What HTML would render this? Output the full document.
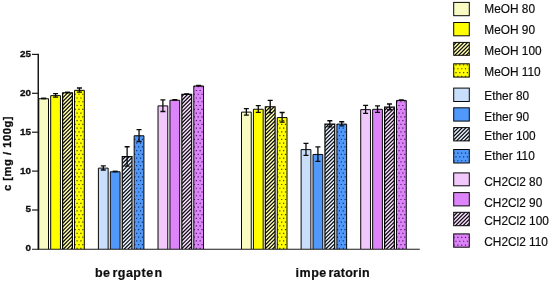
<!DOCTYPE html>
<html><head><meta charset="utf-8"><title>chart</title>
<style>
html,body{margin:0;padding:0;background:#fff;}
body{width:550px;height:283px;overflow:hidden;font-family:"Liberation Sans",sans-serif;}
svg{display:block;}
text{font-family:"Liberation Sans",sans-serif;fill:#0d0d0d;}
.tk{font-size:9.9px;font-weight:bold;stroke:#0d0d0d;stroke-width:0.3px;}
.lg{font-size:11.85px;stroke:#0d0d0d;stroke-width:0.18px;}
.xl{font-size:12.5px;font-weight:bold;letter-spacing:0.5px;stroke:#0d0d0d;stroke-width:0.2px;}
.yl{font-size:11.3px;font-weight:bold;letter-spacing:0.47px;stroke:#0d0d0d;stroke-width:0.3px;}
</style></head>
<body>
<svg width="550" height="283" viewBox="0 0 550 283">
<defs><clipPath id="c1"><rect x="62.63" y="92.75" width="9.75" height="156.35"/></clipPath><clipPath id="c2"><rect x="74.55" y="90.34" width="9.75" height="158.76"/></clipPath><clipPath id="c3"><rect x="122.25" y="156.70" width="9.75" height="92.40"/></clipPath><clipPath id="c4"><rect x="134.17" y="135.77" width="9.75" height="113.33"/></clipPath><clipPath id="c5"><rect x="181.87" y="94.38" width="9.75" height="154.72"/></clipPath><clipPath id="c6"><rect x="193.79" y="85.98" width="9.75" height="163.12"/></clipPath><clipPath id="c7"><rect x="265.34" y="106.75" width="9.75" height="142.35"/></clipPath><clipPath id="c8"><rect x="277.26" y="117.57" width="9.75" height="131.53"/></clipPath><clipPath id="c9"><rect x="324.96" y="124.10" width="9.75" height="125.00"/></clipPath><clipPath id="c10"><rect x="336.88" y="124.10" width="9.75" height="125.00"/></clipPath><clipPath id="c11"><rect x="384.58" y="107.14" width="9.75" height="141.96"/></clipPath><clipPath id="c12"><rect x="396.50" y="100.45" width="9.75" height="148.65"/></clipPath><clipPath id="c13"><rect x="453.70" y="42.40" width="15.60" height="12.90"/></clipPath><clipPath id="c14"><rect x="453.70" y="63.80" width="15.60" height="13.30"/></clipPath><clipPath id="c15"><rect x="453.70" y="127.60" width="15.60" height="13.30"/></clipPath><clipPath id="c16"><rect x="453.70" y="149.50" width="15.60" height="13.50"/></clipPath><clipPath id="c17"><rect x="453.70" y="212.30" width="15.60" height="13.40"/></clipPath><clipPath id="c18"><rect x="453.70" y="233.90" width="15.60" height="13.30"/></clipPath></defs>
<rect width="550" height="283" fill="#fff"/>
<rect x="38.78" y="98.74" width="9.75" height="150.36" fill="#F9FCC2"/>
<path d="M38.78 249.10V98.74H48.53V249.10" fill="none" stroke="#080808" stroke-width="1.0"/>
<path d="M41.16 98.44H46.16" stroke="#0a0a0a" stroke-width="1.8" fill="none"/>
<rect x="50.70" y="95.63" width="9.75" height="153.47" fill="#FFFF00"/>
<path d="M50.70 249.10V95.63H60.45V249.10" fill="none" stroke="#080808" stroke-width="1.0"/>
<path d="M55.58 93.59V97.17M53.08 93.59H58.08M53.08 97.17H58.08" stroke="#0a0a0a" stroke-width="1.3" fill="none"/>
<rect x="62.63" y="92.75" width="9.75" height="156.35" fill="#FFFFAC"/><path clip-path="url(#c1)" d="M61.63 91.27L73.38 79.52M61.63 95.07L73.38 83.32M61.63 98.87L73.38 87.12M61.63 102.67L73.38 90.92M61.63 106.47L73.38 94.72M61.63 110.27L73.38 98.52M61.63 114.07L73.38 102.32M61.63 117.87L73.38 106.12M61.63 121.67L73.38 109.92M61.63 125.47L73.38 113.72M61.63 129.27L73.38 117.52M61.63 133.07L73.38 121.32M61.63 136.87L73.38 125.12M61.63 140.67L73.38 128.92M61.63 144.47L73.38 132.72M61.63 148.27L73.38 136.52M61.63 152.07L73.38 140.32M61.63 155.87L73.38 144.12M61.63 159.67L73.38 147.92M61.63 163.47L73.38 151.72M61.63 167.27L73.38 155.52M61.63 171.07L73.38 159.32M61.63 174.87L73.38 163.12M61.63 178.67L73.38 166.92M61.63 182.47L73.38 170.72M61.63 186.27L73.38 174.52M61.63 190.07L73.38 178.32M61.63 193.87L73.38 182.12M61.63 197.67L73.38 185.92M61.63 201.47L73.38 189.72M61.63 205.27L73.38 193.52M61.63 209.07L73.38 197.32M61.63 212.87L73.38 201.12M61.63 216.67L73.38 204.92M61.63 220.47L73.38 208.72M61.63 224.27L73.38 212.52M61.63 228.07L73.38 216.32M61.63 231.87L73.38 220.12M61.63 235.67L73.38 223.92M61.63 239.47L73.38 227.72M61.63 243.27L73.38 231.52M61.63 247.07L73.38 235.32M61.63 250.87L73.38 239.12M61.63 254.67L73.38 242.92M61.63 258.47L73.38 246.72M61.63 262.27L73.38 250.52" stroke="#0a0a0a" stroke-width="1.22" fill="none"/>
<path d="M62.63 249.10V92.75H72.38V249.10" fill="none" stroke="#050505" stroke-width="1.2"/>
<path d="M65.00 92.45H70.00" stroke="#0a0a0a" stroke-width="1.8" fill="none"/>
<rect x="74.55" y="90.34" width="9.75" height="158.76" fill="#FFFF00"/><path clip-path="url(#c2)" d="M76.50 89.88h1.2v1.2h-1.2zM80.30 89.88h1.2v1.2h-1.2zM84.10 89.88h1.2v1.2h-1.2zM74.60 93.64h1.2v1.2h-1.2zM78.40 93.64h1.2v1.2h-1.2zM82.20 93.64h1.2v1.2h-1.2zM76.50 97.40h1.2v1.2h-1.2zM80.30 97.40h1.2v1.2h-1.2zM84.10 97.40h1.2v1.2h-1.2zM74.60 101.16h1.2v1.2h-1.2zM78.40 101.16h1.2v1.2h-1.2zM82.20 101.16h1.2v1.2h-1.2zM76.50 104.92h1.2v1.2h-1.2zM80.30 104.92h1.2v1.2h-1.2zM84.10 104.92h1.2v1.2h-1.2zM74.60 108.68h1.2v1.2h-1.2zM78.40 108.68h1.2v1.2h-1.2zM82.20 108.68h1.2v1.2h-1.2zM76.50 112.44h1.2v1.2h-1.2zM80.30 112.44h1.2v1.2h-1.2zM84.10 112.44h1.2v1.2h-1.2zM74.60 116.20h1.2v1.2h-1.2zM78.40 116.20h1.2v1.2h-1.2zM82.20 116.20h1.2v1.2h-1.2zM76.50 119.96h1.2v1.2h-1.2zM80.30 119.96h1.2v1.2h-1.2zM84.10 119.96h1.2v1.2h-1.2zM74.60 123.72h1.2v1.2h-1.2zM78.40 123.72h1.2v1.2h-1.2zM82.20 123.72h1.2v1.2h-1.2zM76.50 127.48h1.2v1.2h-1.2zM80.30 127.48h1.2v1.2h-1.2zM84.10 127.48h1.2v1.2h-1.2zM74.60 131.24h1.2v1.2h-1.2zM78.40 131.24h1.2v1.2h-1.2zM82.20 131.24h1.2v1.2h-1.2zM76.50 135.00h1.2v1.2h-1.2zM80.30 135.00h1.2v1.2h-1.2zM84.10 135.00h1.2v1.2h-1.2zM74.60 138.76h1.2v1.2h-1.2zM78.40 138.76h1.2v1.2h-1.2zM82.20 138.76h1.2v1.2h-1.2zM76.50 142.52h1.2v1.2h-1.2zM80.30 142.52h1.2v1.2h-1.2zM84.10 142.52h1.2v1.2h-1.2zM74.60 146.28h1.2v1.2h-1.2zM78.40 146.28h1.2v1.2h-1.2zM82.20 146.28h1.2v1.2h-1.2zM76.50 150.04h1.2v1.2h-1.2zM80.30 150.04h1.2v1.2h-1.2zM84.10 150.04h1.2v1.2h-1.2zM74.60 153.80h1.2v1.2h-1.2zM78.40 153.80h1.2v1.2h-1.2zM82.20 153.80h1.2v1.2h-1.2zM76.50 157.56h1.2v1.2h-1.2zM80.30 157.56h1.2v1.2h-1.2zM84.10 157.56h1.2v1.2h-1.2zM74.60 161.32h1.2v1.2h-1.2zM78.40 161.32h1.2v1.2h-1.2zM82.20 161.32h1.2v1.2h-1.2zM76.50 165.08h1.2v1.2h-1.2zM80.30 165.08h1.2v1.2h-1.2zM84.10 165.08h1.2v1.2h-1.2zM74.60 168.84h1.2v1.2h-1.2zM78.40 168.84h1.2v1.2h-1.2zM82.20 168.84h1.2v1.2h-1.2zM76.50 172.60h1.2v1.2h-1.2zM80.30 172.60h1.2v1.2h-1.2zM84.10 172.60h1.2v1.2h-1.2zM74.60 176.36h1.2v1.2h-1.2zM78.40 176.36h1.2v1.2h-1.2zM82.20 176.36h1.2v1.2h-1.2zM76.50 180.12h1.2v1.2h-1.2zM80.30 180.12h1.2v1.2h-1.2zM84.10 180.12h1.2v1.2h-1.2zM74.60 183.88h1.2v1.2h-1.2zM78.40 183.88h1.2v1.2h-1.2zM82.20 183.88h1.2v1.2h-1.2zM76.50 187.64h1.2v1.2h-1.2zM80.30 187.64h1.2v1.2h-1.2zM84.10 187.64h1.2v1.2h-1.2zM74.60 191.40h1.2v1.2h-1.2zM78.40 191.40h1.2v1.2h-1.2zM82.20 191.40h1.2v1.2h-1.2zM76.50 195.16h1.2v1.2h-1.2zM80.30 195.16h1.2v1.2h-1.2zM84.10 195.16h1.2v1.2h-1.2zM74.60 198.92h1.2v1.2h-1.2zM78.40 198.92h1.2v1.2h-1.2zM82.20 198.92h1.2v1.2h-1.2zM76.50 202.68h1.2v1.2h-1.2zM80.30 202.68h1.2v1.2h-1.2zM84.10 202.68h1.2v1.2h-1.2zM74.60 206.44h1.2v1.2h-1.2zM78.40 206.44h1.2v1.2h-1.2zM82.20 206.44h1.2v1.2h-1.2zM76.50 210.20h1.2v1.2h-1.2zM80.30 210.20h1.2v1.2h-1.2zM84.10 210.20h1.2v1.2h-1.2zM74.60 213.96h1.2v1.2h-1.2zM78.40 213.96h1.2v1.2h-1.2zM82.20 213.96h1.2v1.2h-1.2zM76.50 217.72h1.2v1.2h-1.2zM80.30 217.72h1.2v1.2h-1.2zM84.10 217.72h1.2v1.2h-1.2zM74.60 221.48h1.2v1.2h-1.2zM78.40 221.48h1.2v1.2h-1.2zM82.20 221.48h1.2v1.2h-1.2zM76.50 225.24h1.2v1.2h-1.2zM80.30 225.24h1.2v1.2h-1.2zM84.10 225.24h1.2v1.2h-1.2zM74.60 229.00h1.2v1.2h-1.2zM78.40 229.00h1.2v1.2h-1.2zM82.20 229.00h1.2v1.2h-1.2zM76.50 232.76h1.2v1.2h-1.2zM80.30 232.76h1.2v1.2h-1.2zM84.10 232.76h1.2v1.2h-1.2zM74.60 236.52h1.2v1.2h-1.2zM78.40 236.52h1.2v1.2h-1.2zM82.20 236.52h1.2v1.2h-1.2zM76.50 240.28h1.2v1.2h-1.2zM80.30 240.28h1.2v1.2h-1.2zM84.10 240.28h1.2v1.2h-1.2zM74.60 244.04h1.2v1.2h-1.2zM78.40 244.04h1.2v1.2h-1.2zM82.20 244.04h1.2v1.2h-1.2zM76.50 247.80h1.2v1.2h-1.2zM80.30 247.80h1.2v1.2h-1.2zM84.10 247.80h1.2v1.2h-1.2z" fill="#454100"/>
<path d="M74.55 249.10V90.34H84.30V249.10" fill="none" stroke="#080808" stroke-width="1.0"/>
<path d="M79.43 87.99V92.19M76.93 87.99H81.93M76.93 92.19H81.93" stroke="#0a0a0a" stroke-width="1.3" fill="none"/>
<rect x="98.40" y="168.14" width="9.75" height="80.96" fill="#C8DEFA"/>
<path d="M98.40 249.10V168.14H108.15V249.10" fill="none" stroke="#080808" stroke-width="1.0"/>
<path d="M103.28 165.79V169.99M100.78 165.79H105.78M100.78 169.99H105.78" stroke="#0a0a0a" stroke-width="1.3" fill="none"/>
<rect x="110.32" y="171.79" width="9.75" height="77.31" fill="#5098FA"/>
<path d="M110.32 249.10V171.79H120.07V249.10" fill="none" stroke="#080808" stroke-width="1.0"/>
<path d="M112.70 171.49H117.70" stroke="#0a0a0a" stroke-width="1.8" fill="none"/>
<rect x="122.25" y="156.70" width="9.75" height="92.40" fill="#E4F0FF"/><path clip-path="url(#c3)" d="M121.25 157.05L133.00 145.30M121.25 160.85L133.00 149.10M121.25 164.65L133.00 152.90M121.25 168.45L133.00 156.70M121.25 172.25L133.00 160.50M121.25 176.05L133.00 164.30M121.25 179.85L133.00 168.10M121.25 183.65L133.00 171.90M121.25 187.45L133.00 175.70M121.25 191.25L133.00 179.50M121.25 195.05L133.00 183.30M121.25 198.85L133.00 187.10M121.25 202.65L133.00 190.90M121.25 206.45L133.00 194.70M121.25 210.25L133.00 198.50M121.25 214.05L133.00 202.30M121.25 217.85L133.00 206.10M121.25 221.65L133.00 209.90M121.25 225.45L133.00 213.70M121.25 229.25L133.00 217.50M121.25 233.05L133.00 221.30M121.25 236.85L133.00 225.10M121.25 240.65L133.00 228.90M121.25 244.45L133.00 232.70M121.25 248.25L133.00 236.50M121.25 252.05L133.00 240.30M121.25 255.85L133.00 244.10M121.25 259.65L133.00 247.90M121.25 263.45L133.00 251.70" stroke="#0a0a0a" stroke-width="1.22" fill="none"/>
<path d="M122.25 249.10V156.70H132.00V249.10" fill="none" stroke="#050505" stroke-width="1.2"/>
<path d="M127.12 146.73V166.18M124.62 146.73H129.62M124.62 166.18H129.62" stroke="#0a0a0a" stroke-width="1.3" fill="none"/>
<rect x="134.17" y="135.77" width="9.75" height="113.33" fill="#5098FA"/><path clip-path="url(#c4)" d="M136.12 135.00h1.2v1.2h-1.2zM139.92 135.00h1.2v1.2h-1.2zM143.72 135.00h1.2v1.2h-1.2zM134.22 138.76h1.2v1.2h-1.2zM138.02 138.76h1.2v1.2h-1.2zM141.82 138.76h1.2v1.2h-1.2zM136.12 142.52h1.2v1.2h-1.2zM139.92 142.52h1.2v1.2h-1.2zM143.72 142.52h1.2v1.2h-1.2zM134.22 146.28h1.2v1.2h-1.2zM138.02 146.28h1.2v1.2h-1.2zM141.82 146.28h1.2v1.2h-1.2zM136.12 150.04h1.2v1.2h-1.2zM139.92 150.04h1.2v1.2h-1.2zM143.72 150.04h1.2v1.2h-1.2zM134.22 153.80h1.2v1.2h-1.2zM138.02 153.80h1.2v1.2h-1.2zM141.82 153.80h1.2v1.2h-1.2zM136.12 157.56h1.2v1.2h-1.2zM139.92 157.56h1.2v1.2h-1.2zM143.72 157.56h1.2v1.2h-1.2zM134.22 161.32h1.2v1.2h-1.2zM138.02 161.32h1.2v1.2h-1.2zM141.82 161.32h1.2v1.2h-1.2zM136.12 165.08h1.2v1.2h-1.2zM139.92 165.08h1.2v1.2h-1.2zM143.72 165.08h1.2v1.2h-1.2zM134.22 168.84h1.2v1.2h-1.2zM138.02 168.84h1.2v1.2h-1.2zM141.82 168.84h1.2v1.2h-1.2zM136.12 172.60h1.2v1.2h-1.2zM139.92 172.60h1.2v1.2h-1.2zM143.72 172.60h1.2v1.2h-1.2zM134.22 176.36h1.2v1.2h-1.2zM138.02 176.36h1.2v1.2h-1.2zM141.82 176.36h1.2v1.2h-1.2zM136.12 180.12h1.2v1.2h-1.2zM139.92 180.12h1.2v1.2h-1.2zM143.72 180.12h1.2v1.2h-1.2zM134.22 183.88h1.2v1.2h-1.2zM138.02 183.88h1.2v1.2h-1.2zM141.82 183.88h1.2v1.2h-1.2zM136.12 187.64h1.2v1.2h-1.2zM139.92 187.64h1.2v1.2h-1.2zM143.72 187.64h1.2v1.2h-1.2zM134.22 191.40h1.2v1.2h-1.2zM138.02 191.40h1.2v1.2h-1.2zM141.82 191.40h1.2v1.2h-1.2zM136.12 195.16h1.2v1.2h-1.2zM139.92 195.16h1.2v1.2h-1.2zM143.72 195.16h1.2v1.2h-1.2zM134.22 198.92h1.2v1.2h-1.2zM138.02 198.92h1.2v1.2h-1.2zM141.82 198.92h1.2v1.2h-1.2zM136.12 202.68h1.2v1.2h-1.2zM139.92 202.68h1.2v1.2h-1.2zM143.72 202.68h1.2v1.2h-1.2zM134.22 206.44h1.2v1.2h-1.2zM138.02 206.44h1.2v1.2h-1.2zM141.82 206.44h1.2v1.2h-1.2zM136.12 210.20h1.2v1.2h-1.2zM139.92 210.20h1.2v1.2h-1.2zM143.72 210.20h1.2v1.2h-1.2zM134.22 213.96h1.2v1.2h-1.2zM138.02 213.96h1.2v1.2h-1.2zM141.82 213.96h1.2v1.2h-1.2zM136.12 217.72h1.2v1.2h-1.2zM139.92 217.72h1.2v1.2h-1.2zM143.72 217.72h1.2v1.2h-1.2zM134.22 221.48h1.2v1.2h-1.2zM138.02 221.48h1.2v1.2h-1.2zM141.82 221.48h1.2v1.2h-1.2zM136.12 225.24h1.2v1.2h-1.2zM139.92 225.24h1.2v1.2h-1.2zM143.72 225.24h1.2v1.2h-1.2zM134.22 229.00h1.2v1.2h-1.2zM138.02 229.00h1.2v1.2h-1.2zM141.82 229.00h1.2v1.2h-1.2zM136.12 232.76h1.2v1.2h-1.2zM139.92 232.76h1.2v1.2h-1.2zM143.72 232.76h1.2v1.2h-1.2zM134.22 236.52h1.2v1.2h-1.2zM138.02 236.52h1.2v1.2h-1.2zM141.82 236.52h1.2v1.2h-1.2zM136.12 240.28h1.2v1.2h-1.2zM139.92 240.28h1.2v1.2h-1.2zM143.72 240.28h1.2v1.2h-1.2zM134.22 244.04h1.2v1.2h-1.2zM138.02 244.04h1.2v1.2h-1.2zM141.82 244.04h1.2v1.2h-1.2zM136.12 247.80h1.2v1.2h-1.2zM139.92 247.80h1.2v1.2h-1.2zM143.72 247.80h1.2v1.2h-1.2z" fill="#15306a"/>
<path d="M134.17 249.10V135.77H143.92V249.10" fill="none" stroke="#080808" stroke-width="1.0"/>
<path d="M139.05 129.53V141.51M136.55 129.53H141.55M136.55 141.51H141.55" stroke="#0a0a0a" stroke-width="1.3" fill="none"/>
<rect x="158.02" y="105.90" width="9.75" height="143.20" fill="#F0C8FA"/>
<path d="M158.02 249.10V105.90H167.77V249.10" fill="none" stroke="#080808" stroke-width="1.0"/>
<path d="M162.89 99.81V111.48M160.39 99.81H165.39M160.39 111.48H165.39" stroke="#0a0a0a" stroke-width="1.3" fill="none"/>
<rect x="169.94" y="100.22" width="9.75" height="148.88" fill="#DE84FA"/>
<path d="M169.94 249.10V100.22H179.69V249.10" fill="none" stroke="#080808" stroke-width="1.0"/>
<path d="M172.32 99.92H177.32" stroke="#0a0a0a" stroke-width="1.8" fill="none"/>
<rect x="181.87" y="94.38" width="9.75" height="154.72" fill="#F8DCFF"/><path clip-path="url(#c5)" d="M180.87 93.63L192.62 81.88M180.87 97.43L192.62 85.68M180.87 101.23L192.62 89.48M180.87 105.03L192.62 93.28M180.87 108.83L192.62 97.08M180.87 112.63L192.62 100.88M180.87 116.43L192.62 104.68M180.87 120.23L192.62 108.48M180.87 124.03L192.62 112.28M180.87 127.83L192.62 116.08M180.87 131.63L192.62 119.88M180.87 135.43L192.62 123.68M180.87 139.23L192.62 127.48M180.87 143.03L192.62 131.28M180.87 146.83L192.62 135.08M180.87 150.63L192.62 138.88M180.87 154.43L192.62 142.68M180.87 158.23L192.62 146.48M180.87 162.03L192.62 150.28M180.87 165.83L192.62 154.08M180.87 169.63L192.62 157.88M180.87 173.43L192.62 161.68M180.87 177.23L192.62 165.48M180.87 181.03L192.62 169.28M180.87 184.83L192.62 173.08M180.87 188.63L192.62 176.88M180.87 192.43L192.62 180.68M180.87 196.23L192.62 184.48M180.87 200.03L192.62 188.28M180.87 203.83L192.62 192.08M180.87 207.63L192.62 195.88M180.87 211.43L192.62 199.68M180.87 215.23L192.62 203.48M180.87 219.03L192.62 207.28M180.87 222.83L192.62 211.08M180.87 226.63L192.62 214.88M180.87 230.43L192.62 218.68M180.87 234.23L192.62 222.48M180.87 238.03L192.62 226.28M180.87 241.83L192.62 230.08M180.87 245.63L192.62 233.88M180.87 249.43L192.62 237.68M180.87 253.23L192.62 241.48M180.87 257.03L192.62 245.28M180.87 260.83L192.62 249.08" stroke="#0a0a0a" stroke-width="1.22" fill="none"/>
<path d="M181.87 249.10V94.38H191.62V249.10" fill="none" stroke="#050505" stroke-width="1.2"/>
<path d="M184.24 94.08H189.24" stroke="#0a0a0a" stroke-width="1.8" fill="none"/>
<rect x="193.79" y="85.98" width="9.75" height="163.12" fill="#DE84FA"/><path clip-path="url(#c6)" d="M193.84 86.12h1.2v1.2h-1.2zM197.64 86.12h1.2v1.2h-1.2zM201.44 86.12h1.2v1.2h-1.2zM195.74 89.88h1.2v1.2h-1.2zM199.54 89.88h1.2v1.2h-1.2zM203.34 89.88h1.2v1.2h-1.2zM193.84 93.64h1.2v1.2h-1.2zM197.64 93.64h1.2v1.2h-1.2zM201.44 93.64h1.2v1.2h-1.2zM195.74 97.40h1.2v1.2h-1.2zM199.54 97.40h1.2v1.2h-1.2zM203.34 97.40h1.2v1.2h-1.2zM193.84 101.16h1.2v1.2h-1.2zM197.64 101.16h1.2v1.2h-1.2zM201.44 101.16h1.2v1.2h-1.2zM195.74 104.92h1.2v1.2h-1.2zM199.54 104.92h1.2v1.2h-1.2zM203.34 104.92h1.2v1.2h-1.2zM193.84 108.68h1.2v1.2h-1.2zM197.64 108.68h1.2v1.2h-1.2zM201.44 108.68h1.2v1.2h-1.2zM195.74 112.44h1.2v1.2h-1.2zM199.54 112.44h1.2v1.2h-1.2zM203.34 112.44h1.2v1.2h-1.2zM193.84 116.20h1.2v1.2h-1.2zM197.64 116.20h1.2v1.2h-1.2zM201.44 116.20h1.2v1.2h-1.2zM195.74 119.96h1.2v1.2h-1.2zM199.54 119.96h1.2v1.2h-1.2zM203.34 119.96h1.2v1.2h-1.2zM193.84 123.72h1.2v1.2h-1.2zM197.64 123.72h1.2v1.2h-1.2zM201.44 123.72h1.2v1.2h-1.2zM195.74 127.48h1.2v1.2h-1.2zM199.54 127.48h1.2v1.2h-1.2zM203.34 127.48h1.2v1.2h-1.2zM193.84 131.24h1.2v1.2h-1.2zM197.64 131.24h1.2v1.2h-1.2zM201.44 131.24h1.2v1.2h-1.2zM195.74 135.00h1.2v1.2h-1.2zM199.54 135.00h1.2v1.2h-1.2zM203.34 135.00h1.2v1.2h-1.2zM193.84 138.76h1.2v1.2h-1.2zM197.64 138.76h1.2v1.2h-1.2zM201.44 138.76h1.2v1.2h-1.2zM195.74 142.52h1.2v1.2h-1.2zM199.54 142.52h1.2v1.2h-1.2zM203.34 142.52h1.2v1.2h-1.2zM193.84 146.28h1.2v1.2h-1.2zM197.64 146.28h1.2v1.2h-1.2zM201.44 146.28h1.2v1.2h-1.2zM195.74 150.04h1.2v1.2h-1.2zM199.54 150.04h1.2v1.2h-1.2zM203.34 150.04h1.2v1.2h-1.2zM193.84 153.80h1.2v1.2h-1.2zM197.64 153.80h1.2v1.2h-1.2zM201.44 153.80h1.2v1.2h-1.2zM195.74 157.56h1.2v1.2h-1.2zM199.54 157.56h1.2v1.2h-1.2zM203.34 157.56h1.2v1.2h-1.2zM193.84 161.32h1.2v1.2h-1.2zM197.64 161.32h1.2v1.2h-1.2zM201.44 161.32h1.2v1.2h-1.2zM195.74 165.08h1.2v1.2h-1.2zM199.54 165.08h1.2v1.2h-1.2zM203.34 165.08h1.2v1.2h-1.2zM193.84 168.84h1.2v1.2h-1.2zM197.64 168.84h1.2v1.2h-1.2zM201.44 168.84h1.2v1.2h-1.2zM195.74 172.60h1.2v1.2h-1.2zM199.54 172.60h1.2v1.2h-1.2zM203.34 172.60h1.2v1.2h-1.2zM193.84 176.36h1.2v1.2h-1.2zM197.64 176.36h1.2v1.2h-1.2zM201.44 176.36h1.2v1.2h-1.2zM195.74 180.12h1.2v1.2h-1.2zM199.54 180.12h1.2v1.2h-1.2zM203.34 180.12h1.2v1.2h-1.2zM193.84 183.88h1.2v1.2h-1.2zM197.64 183.88h1.2v1.2h-1.2zM201.44 183.88h1.2v1.2h-1.2zM195.74 187.64h1.2v1.2h-1.2zM199.54 187.64h1.2v1.2h-1.2zM203.34 187.64h1.2v1.2h-1.2zM193.84 191.40h1.2v1.2h-1.2zM197.64 191.40h1.2v1.2h-1.2zM201.44 191.40h1.2v1.2h-1.2zM195.74 195.16h1.2v1.2h-1.2zM199.54 195.16h1.2v1.2h-1.2zM203.34 195.16h1.2v1.2h-1.2zM193.84 198.92h1.2v1.2h-1.2zM197.64 198.92h1.2v1.2h-1.2zM201.44 198.92h1.2v1.2h-1.2zM195.74 202.68h1.2v1.2h-1.2zM199.54 202.68h1.2v1.2h-1.2zM203.34 202.68h1.2v1.2h-1.2zM193.84 206.44h1.2v1.2h-1.2zM197.64 206.44h1.2v1.2h-1.2zM201.44 206.44h1.2v1.2h-1.2zM195.74 210.20h1.2v1.2h-1.2zM199.54 210.20h1.2v1.2h-1.2zM203.34 210.20h1.2v1.2h-1.2zM193.84 213.96h1.2v1.2h-1.2zM197.64 213.96h1.2v1.2h-1.2zM201.44 213.96h1.2v1.2h-1.2zM195.74 217.72h1.2v1.2h-1.2zM199.54 217.72h1.2v1.2h-1.2zM203.34 217.72h1.2v1.2h-1.2zM193.84 221.48h1.2v1.2h-1.2zM197.64 221.48h1.2v1.2h-1.2zM201.44 221.48h1.2v1.2h-1.2zM195.74 225.24h1.2v1.2h-1.2zM199.54 225.24h1.2v1.2h-1.2zM203.34 225.24h1.2v1.2h-1.2zM193.84 229.00h1.2v1.2h-1.2zM197.64 229.00h1.2v1.2h-1.2zM201.44 229.00h1.2v1.2h-1.2zM195.74 232.76h1.2v1.2h-1.2zM199.54 232.76h1.2v1.2h-1.2zM203.34 232.76h1.2v1.2h-1.2zM193.84 236.52h1.2v1.2h-1.2zM197.64 236.52h1.2v1.2h-1.2zM201.44 236.52h1.2v1.2h-1.2zM195.74 240.28h1.2v1.2h-1.2zM199.54 240.28h1.2v1.2h-1.2zM203.34 240.28h1.2v1.2h-1.2zM193.84 244.04h1.2v1.2h-1.2zM197.64 244.04h1.2v1.2h-1.2zM201.44 244.04h1.2v1.2h-1.2zM195.74 247.80h1.2v1.2h-1.2zM199.54 247.80h1.2v1.2h-1.2zM203.34 247.80h1.2v1.2h-1.2z" fill="#4a1c60"/>
<path d="M193.79 249.10V85.98H203.54V249.10" fill="none" stroke="#080808" stroke-width="1.0"/>
<path d="M196.17 85.68H201.17" stroke="#0a0a0a" stroke-width="1.8" fill="none"/>
<rect x="241.49" y="112.12" width="9.75" height="136.98" fill="#F9FCC2"/>
<path d="M241.49 249.10V112.12H251.24V249.10" fill="none" stroke="#080808" stroke-width="1.0"/>
<path d="M246.36 108.60V115.14M243.86 108.60H248.86M243.86 115.14H248.86" stroke="#0a0a0a" stroke-width="1.3" fill="none"/>
<rect x="253.41" y="109.24" width="9.75" height="139.86" fill="#FFFF00"/>
<path d="M253.41 249.10V109.24H263.16V249.10" fill="none" stroke="#080808" stroke-width="1.0"/>
<path d="M258.29 105.65V112.34M255.79 105.65H260.79M255.79 112.34H260.79" stroke="#0a0a0a" stroke-width="1.3" fill="none"/>
<rect x="265.34" y="106.75" width="9.75" height="142.35" fill="#FFFFAC"/><path clip-path="url(#c7)" d="M264.34 105.16L276.09 93.41M264.34 108.96L276.09 97.21M264.34 112.76L276.09 101.01M264.34 116.56L276.09 104.81M264.34 120.36L276.09 108.61M264.34 124.16L276.09 112.41M264.34 127.96L276.09 116.21M264.34 131.76L276.09 120.01M264.34 135.56L276.09 123.81M264.34 139.36L276.09 127.61M264.34 143.16L276.09 131.41M264.34 146.96L276.09 135.21M264.34 150.76L276.09 139.01M264.34 154.56L276.09 142.81M264.34 158.36L276.09 146.61M264.34 162.16L276.09 150.41M264.34 165.96L276.09 154.21M264.34 169.76L276.09 158.01M264.34 173.56L276.09 161.81M264.34 177.36L276.09 165.61M264.34 181.16L276.09 169.41M264.34 184.96L276.09 173.21M264.34 188.76L276.09 177.01M264.34 192.56L276.09 180.81M264.34 196.36L276.09 184.61M264.34 200.16L276.09 188.41M264.34 203.96L276.09 192.21M264.34 207.76L276.09 196.01M264.34 211.56L276.09 199.81M264.34 215.36L276.09 203.61M264.34 219.16L276.09 207.41M264.34 222.96L276.09 211.21M264.34 226.76L276.09 215.01M264.34 230.56L276.09 218.81M264.34 234.36L276.09 222.61M264.34 238.16L276.09 226.41M264.34 241.96L276.09 230.21M264.34 245.76L276.09 234.01M264.34 249.56L276.09 237.81M264.34 253.36L276.09 241.61M264.34 257.16L276.09 245.41M264.34 260.96L276.09 249.21" stroke="#0a0a0a" stroke-width="1.22" fill="none"/>
<path d="M265.34 249.10V106.75H275.09V249.10" fill="none" stroke="#050505" stroke-width="1.2"/>
<path d="M270.21 100.44V112.57M267.71 100.44H272.71M267.71 112.57H272.71" stroke="#0a0a0a" stroke-width="1.3" fill="none"/>
<rect x="277.26" y="117.57" width="9.75" height="131.53" fill="#FFFF00"/><path clip-path="url(#c8)" d="M279.21 119.96h1.2v1.2h-1.2zM283.01 119.96h1.2v1.2h-1.2zM286.81 119.96h1.2v1.2h-1.2zM277.31 123.72h1.2v1.2h-1.2zM281.11 123.72h1.2v1.2h-1.2zM284.91 123.72h1.2v1.2h-1.2zM279.21 127.48h1.2v1.2h-1.2zM283.01 127.48h1.2v1.2h-1.2zM286.81 127.48h1.2v1.2h-1.2zM277.31 131.24h1.2v1.2h-1.2zM281.11 131.24h1.2v1.2h-1.2zM284.91 131.24h1.2v1.2h-1.2zM279.21 135.00h1.2v1.2h-1.2zM283.01 135.00h1.2v1.2h-1.2zM286.81 135.00h1.2v1.2h-1.2zM277.31 138.76h1.2v1.2h-1.2zM281.11 138.76h1.2v1.2h-1.2zM284.91 138.76h1.2v1.2h-1.2zM279.21 142.52h1.2v1.2h-1.2zM283.01 142.52h1.2v1.2h-1.2zM286.81 142.52h1.2v1.2h-1.2zM277.31 146.28h1.2v1.2h-1.2zM281.11 146.28h1.2v1.2h-1.2zM284.91 146.28h1.2v1.2h-1.2zM279.21 150.04h1.2v1.2h-1.2zM283.01 150.04h1.2v1.2h-1.2zM286.81 150.04h1.2v1.2h-1.2zM277.31 153.80h1.2v1.2h-1.2zM281.11 153.80h1.2v1.2h-1.2zM284.91 153.80h1.2v1.2h-1.2zM279.21 157.56h1.2v1.2h-1.2zM283.01 157.56h1.2v1.2h-1.2zM286.81 157.56h1.2v1.2h-1.2zM277.31 161.32h1.2v1.2h-1.2zM281.11 161.32h1.2v1.2h-1.2zM284.91 161.32h1.2v1.2h-1.2zM279.21 165.08h1.2v1.2h-1.2zM283.01 165.08h1.2v1.2h-1.2zM286.81 165.08h1.2v1.2h-1.2zM277.31 168.84h1.2v1.2h-1.2zM281.11 168.84h1.2v1.2h-1.2zM284.91 168.84h1.2v1.2h-1.2zM279.21 172.60h1.2v1.2h-1.2zM283.01 172.60h1.2v1.2h-1.2zM286.81 172.60h1.2v1.2h-1.2zM277.31 176.36h1.2v1.2h-1.2zM281.11 176.36h1.2v1.2h-1.2zM284.91 176.36h1.2v1.2h-1.2zM279.21 180.12h1.2v1.2h-1.2zM283.01 180.12h1.2v1.2h-1.2zM286.81 180.12h1.2v1.2h-1.2zM277.31 183.88h1.2v1.2h-1.2zM281.11 183.88h1.2v1.2h-1.2zM284.91 183.88h1.2v1.2h-1.2zM279.21 187.64h1.2v1.2h-1.2zM283.01 187.64h1.2v1.2h-1.2zM286.81 187.64h1.2v1.2h-1.2zM277.31 191.40h1.2v1.2h-1.2zM281.11 191.40h1.2v1.2h-1.2zM284.91 191.40h1.2v1.2h-1.2zM279.21 195.16h1.2v1.2h-1.2zM283.01 195.16h1.2v1.2h-1.2zM286.81 195.16h1.2v1.2h-1.2zM277.31 198.92h1.2v1.2h-1.2zM281.11 198.92h1.2v1.2h-1.2zM284.91 198.92h1.2v1.2h-1.2zM279.21 202.68h1.2v1.2h-1.2zM283.01 202.68h1.2v1.2h-1.2zM286.81 202.68h1.2v1.2h-1.2zM277.31 206.44h1.2v1.2h-1.2zM281.11 206.44h1.2v1.2h-1.2zM284.91 206.44h1.2v1.2h-1.2zM279.21 210.20h1.2v1.2h-1.2zM283.01 210.20h1.2v1.2h-1.2zM286.81 210.20h1.2v1.2h-1.2zM277.31 213.96h1.2v1.2h-1.2zM281.11 213.96h1.2v1.2h-1.2zM284.91 213.96h1.2v1.2h-1.2zM279.21 217.72h1.2v1.2h-1.2zM283.01 217.72h1.2v1.2h-1.2zM286.81 217.72h1.2v1.2h-1.2zM277.31 221.48h1.2v1.2h-1.2zM281.11 221.48h1.2v1.2h-1.2zM284.91 221.48h1.2v1.2h-1.2zM279.21 225.24h1.2v1.2h-1.2zM283.01 225.24h1.2v1.2h-1.2zM286.81 225.24h1.2v1.2h-1.2zM277.31 229.00h1.2v1.2h-1.2zM281.11 229.00h1.2v1.2h-1.2zM284.91 229.00h1.2v1.2h-1.2zM279.21 232.76h1.2v1.2h-1.2zM283.01 232.76h1.2v1.2h-1.2zM286.81 232.76h1.2v1.2h-1.2zM277.31 236.52h1.2v1.2h-1.2zM281.11 236.52h1.2v1.2h-1.2zM284.91 236.52h1.2v1.2h-1.2zM279.21 240.28h1.2v1.2h-1.2zM283.01 240.28h1.2v1.2h-1.2zM286.81 240.28h1.2v1.2h-1.2zM277.31 244.04h1.2v1.2h-1.2zM281.11 244.04h1.2v1.2h-1.2zM284.91 244.04h1.2v1.2h-1.2zM279.21 247.80h1.2v1.2h-1.2zM283.01 247.80h1.2v1.2h-1.2zM286.81 247.80h1.2v1.2h-1.2z" fill="#454100"/>
<path d="M277.26 249.10V117.57H287.01V249.10" fill="none" stroke="#080808" stroke-width="1.0"/>
<path d="M282.13 112.49V122.14M279.63 112.49H284.63M279.63 122.14H284.63" stroke="#0a0a0a" stroke-width="1.3" fill="none"/>
<rect x="301.11" y="149.62" width="9.75" height="99.48" fill="#C8DEFA"/>
<path d="M301.11 249.10V149.62H310.86V249.10" fill="none" stroke="#080808" stroke-width="1.0"/>
<path d="M305.98 143.38V155.36M303.48 143.38H308.48M303.48 155.36H308.48" stroke="#0a0a0a" stroke-width="1.3" fill="none"/>
<rect x="313.03" y="154.45" width="9.75" height="94.65" fill="#5098FA"/>
<path d="M313.03 249.10V154.45H322.78V249.10" fill="none" stroke="#080808" stroke-width="1.0"/>
<path d="M317.91 146.96V161.43M315.41 146.96H320.41M315.41 161.43H320.41" stroke="#0a0a0a" stroke-width="1.3" fill="none"/>
<rect x="324.96" y="124.10" width="9.75" height="125.00" fill="#E4F0FF"/><path clip-path="url(#c9)" d="M323.96 125.34L335.71 113.59M323.96 129.14L335.71 117.39M323.96 132.94L335.71 121.19M323.96 136.74L335.71 124.99M323.96 140.54L335.71 128.79M323.96 144.34L335.71 132.59M323.96 148.14L335.71 136.39M323.96 151.94L335.71 140.19M323.96 155.74L335.71 143.99M323.96 159.54L335.71 147.79M323.96 163.34L335.71 151.59M323.96 167.14L335.71 155.39M323.96 170.94L335.71 159.19M323.96 174.74L335.71 162.99M323.96 178.54L335.71 166.79M323.96 182.34L335.71 170.59M323.96 186.14L335.71 174.39M323.96 189.94L335.71 178.19M323.96 193.74L335.71 181.99M323.96 197.54L335.71 185.79M323.96 201.34L335.71 189.59M323.96 205.14L335.71 193.39M323.96 208.94L335.71 197.19M323.96 212.74L335.71 200.99M323.96 216.54L335.71 204.79M323.96 220.34L335.71 208.59M323.96 224.14L335.71 212.39M323.96 227.94L335.71 216.19M323.96 231.74L335.71 219.99M323.96 235.54L335.71 223.79M323.96 239.34L335.71 227.59M323.96 243.14L335.71 231.39M323.96 246.94L335.71 235.19M323.96 250.74L335.71 238.99M323.96 254.54L335.71 242.79M323.96 258.34L335.71 246.59M323.96 262.14L335.71 250.39" stroke="#0a0a0a" stroke-width="1.22" fill="none"/>
<path d="M324.96 249.10V124.10H334.71V249.10" fill="none" stroke="#050505" stroke-width="1.2"/>
<path d="M329.83 120.74V126.97M327.33 120.74H332.33M327.33 126.97H332.33" stroke="#0a0a0a" stroke-width="1.3" fill="none"/>
<rect x="336.88" y="124.10" width="9.75" height="125.00" fill="#5098FA"/><path clip-path="url(#c10)" d="M336.93 123.72h1.2v1.2h-1.2zM340.73 123.72h1.2v1.2h-1.2zM344.53 123.72h1.2v1.2h-1.2zM338.83 127.48h1.2v1.2h-1.2zM342.63 127.48h1.2v1.2h-1.2zM346.43 127.48h1.2v1.2h-1.2zM336.93 131.24h1.2v1.2h-1.2zM340.73 131.24h1.2v1.2h-1.2zM344.53 131.24h1.2v1.2h-1.2zM338.83 135.00h1.2v1.2h-1.2zM342.63 135.00h1.2v1.2h-1.2zM346.43 135.00h1.2v1.2h-1.2zM336.93 138.76h1.2v1.2h-1.2zM340.73 138.76h1.2v1.2h-1.2zM344.53 138.76h1.2v1.2h-1.2zM338.83 142.52h1.2v1.2h-1.2zM342.63 142.52h1.2v1.2h-1.2zM346.43 142.52h1.2v1.2h-1.2zM336.93 146.28h1.2v1.2h-1.2zM340.73 146.28h1.2v1.2h-1.2zM344.53 146.28h1.2v1.2h-1.2zM338.83 150.04h1.2v1.2h-1.2zM342.63 150.04h1.2v1.2h-1.2zM346.43 150.04h1.2v1.2h-1.2zM336.93 153.80h1.2v1.2h-1.2zM340.73 153.80h1.2v1.2h-1.2zM344.53 153.80h1.2v1.2h-1.2zM338.83 157.56h1.2v1.2h-1.2zM342.63 157.56h1.2v1.2h-1.2zM346.43 157.56h1.2v1.2h-1.2zM336.93 161.32h1.2v1.2h-1.2zM340.73 161.32h1.2v1.2h-1.2zM344.53 161.32h1.2v1.2h-1.2zM338.83 165.08h1.2v1.2h-1.2zM342.63 165.08h1.2v1.2h-1.2zM346.43 165.08h1.2v1.2h-1.2zM336.93 168.84h1.2v1.2h-1.2zM340.73 168.84h1.2v1.2h-1.2zM344.53 168.84h1.2v1.2h-1.2zM338.83 172.60h1.2v1.2h-1.2zM342.63 172.60h1.2v1.2h-1.2zM346.43 172.60h1.2v1.2h-1.2zM336.93 176.36h1.2v1.2h-1.2zM340.73 176.36h1.2v1.2h-1.2zM344.53 176.36h1.2v1.2h-1.2zM338.83 180.12h1.2v1.2h-1.2zM342.63 180.12h1.2v1.2h-1.2zM346.43 180.12h1.2v1.2h-1.2zM336.93 183.88h1.2v1.2h-1.2zM340.73 183.88h1.2v1.2h-1.2zM344.53 183.88h1.2v1.2h-1.2zM338.83 187.64h1.2v1.2h-1.2zM342.63 187.64h1.2v1.2h-1.2zM346.43 187.64h1.2v1.2h-1.2zM336.93 191.40h1.2v1.2h-1.2zM340.73 191.40h1.2v1.2h-1.2zM344.53 191.40h1.2v1.2h-1.2zM338.83 195.16h1.2v1.2h-1.2zM342.63 195.16h1.2v1.2h-1.2zM346.43 195.16h1.2v1.2h-1.2zM336.93 198.92h1.2v1.2h-1.2zM340.73 198.92h1.2v1.2h-1.2zM344.53 198.92h1.2v1.2h-1.2zM338.83 202.68h1.2v1.2h-1.2zM342.63 202.68h1.2v1.2h-1.2zM346.43 202.68h1.2v1.2h-1.2zM336.93 206.44h1.2v1.2h-1.2zM340.73 206.44h1.2v1.2h-1.2zM344.53 206.44h1.2v1.2h-1.2zM338.83 210.20h1.2v1.2h-1.2zM342.63 210.20h1.2v1.2h-1.2zM346.43 210.20h1.2v1.2h-1.2zM336.93 213.96h1.2v1.2h-1.2zM340.73 213.96h1.2v1.2h-1.2zM344.53 213.96h1.2v1.2h-1.2zM338.83 217.72h1.2v1.2h-1.2zM342.63 217.72h1.2v1.2h-1.2zM346.43 217.72h1.2v1.2h-1.2zM336.93 221.48h1.2v1.2h-1.2zM340.73 221.48h1.2v1.2h-1.2zM344.53 221.48h1.2v1.2h-1.2zM338.83 225.24h1.2v1.2h-1.2zM342.63 225.24h1.2v1.2h-1.2zM346.43 225.24h1.2v1.2h-1.2zM336.93 229.00h1.2v1.2h-1.2zM340.73 229.00h1.2v1.2h-1.2zM344.53 229.00h1.2v1.2h-1.2zM338.83 232.76h1.2v1.2h-1.2zM342.63 232.76h1.2v1.2h-1.2zM346.43 232.76h1.2v1.2h-1.2zM336.93 236.52h1.2v1.2h-1.2zM340.73 236.52h1.2v1.2h-1.2zM344.53 236.52h1.2v1.2h-1.2zM338.83 240.28h1.2v1.2h-1.2zM342.63 240.28h1.2v1.2h-1.2zM346.43 240.28h1.2v1.2h-1.2zM336.93 244.04h1.2v1.2h-1.2zM340.73 244.04h1.2v1.2h-1.2zM344.53 244.04h1.2v1.2h-1.2zM338.83 247.80h1.2v1.2h-1.2zM342.63 247.80h1.2v1.2h-1.2zM346.43 247.80h1.2v1.2h-1.2z" fill="#15306a"/>
<path d="M336.88 249.10V124.10H346.63V249.10" fill="none" stroke="#080808" stroke-width="1.0"/>
<path d="M341.75 121.75V125.95M339.25 121.75H344.25M339.25 125.95H344.25" stroke="#0a0a0a" stroke-width="1.3" fill="none"/>
<rect x="360.73" y="109.63" width="9.75" height="139.47" fill="#F0C8FA"/>
<path d="M360.73 249.10V109.63H370.48V249.10" fill="none" stroke="#080808" stroke-width="1.0"/>
<path d="M365.60 105.34V113.43M363.10 105.34H368.10M363.10 113.43H368.10" stroke="#0a0a0a" stroke-width="1.3" fill="none"/>
<rect x="372.65" y="109.32" width="9.75" height="139.78" fill="#DE84FA"/>
<path d="M372.65 249.10V109.32H382.40V249.10" fill="none" stroke="#080808" stroke-width="1.0"/>
<path d="M377.53 105.80V112.34M375.03 105.80H380.03M375.03 112.34H380.03" stroke="#0a0a0a" stroke-width="1.3" fill="none"/>
<rect x="384.58" y="107.14" width="9.75" height="141.96" fill="#F8DCFF"/><path clip-path="url(#c11)" d="M383.58 107.52L395.33 95.77M383.58 111.32L395.33 99.57M383.58 115.12L395.33 103.37M383.58 118.92L395.33 107.17M383.58 122.72L395.33 110.97M383.58 126.52L395.33 114.77M383.58 130.32L395.33 118.57M383.58 134.12L395.33 122.37M383.58 137.92L395.33 126.17M383.58 141.72L395.33 129.97M383.58 145.52L395.33 133.77M383.58 149.32L395.33 137.57M383.58 153.12L395.33 141.37M383.58 156.92L395.33 145.17M383.58 160.72L395.33 148.97M383.58 164.52L395.33 152.77M383.58 168.32L395.33 156.57M383.58 172.12L395.33 160.37M383.58 175.92L395.33 164.17M383.58 179.72L395.33 167.97M383.58 183.52L395.33 171.77M383.58 187.32L395.33 175.57M383.58 191.12L395.33 179.37M383.58 194.92L395.33 183.17M383.58 198.72L395.33 186.97M383.58 202.52L395.33 190.77M383.58 206.32L395.33 194.57M383.58 210.12L395.33 198.37M383.58 213.92L395.33 202.17M383.58 217.72L395.33 205.97M383.58 221.52L395.33 209.77M383.58 225.32L395.33 213.57M383.58 229.12L395.33 217.37M383.58 232.92L395.33 221.17M383.58 236.72L395.33 224.97M383.58 240.52L395.33 228.77M383.58 244.32L395.33 232.57M383.58 248.12L395.33 236.37M383.58 251.92L395.33 240.17M383.58 255.72L395.33 243.97M383.58 259.52L395.33 247.77M383.58 263.32L395.33 251.57" stroke="#0a0a0a" stroke-width="1.22" fill="none"/>
<path d="M384.58 249.10V107.14H394.33V249.10" fill="none" stroke="#050505" stroke-width="1.2"/>
<path d="M389.45 104.01V109.77M386.95 104.01H391.95M386.95 109.77H391.95" stroke="#0a0a0a" stroke-width="1.3" fill="none"/>
<rect x="396.50" y="100.45" width="9.75" height="148.65" fill="#DE84FA"/><path clip-path="url(#c12)" d="M396.55 101.16h1.2v1.2h-1.2zM400.35 101.16h1.2v1.2h-1.2zM404.15 101.16h1.2v1.2h-1.2zM398.45 104.92h1.2v1.2h-1.2zM402.25 104.92h1.2v1.2h-1.2zM406.05 104.92h1.2v1.2h-1.2zM396.55 108.68h1.2v1.2h-1.2zM400.35 108.68h1.2v1.2h-1.2zM404.15 108.68h1.2v1.2h-1.2zM398.45 112.44h1.2v1.2h-1.2zM402.25 112.44h1.2v1.2h-1.2zM406.05 112.44h1.2v1.2h-1.2zM396.55 116.20h1.2v1.2h-1.2zM400.35 116.20h1.2v1.2h-1.2zM404.15 116.20h1.2v1.2h-1.2zM398.45 119.96h1.2v1.2h-1.2zM402.25 119.96h1.2v1.2h-1.2zM406.05 119.96h1.2v1.2h-1.2zM396.55 123.72h1.2v1.2h-1.2zM400.35 123.72h1.2v1.2h-1.2zM404.15 123.72h1.2v1.2h-1.2zM398.45 127.48h1.2v1.2h-1.2zM402.25 127.48h1.2v1.2h-1.2zM406.05 127.48h1.2v1.2h-1.2zM396.55 131.24h1.2v1.2h-1.2zM400.35 131.24h1.2v1.2h-1.2zM404.15 131.24h1.2v1.2h-1.2zM398.45 135.00h1.2v1.2h-1.2zM402.25 135.00h1.2v1.2h-1.2zM406.05 135.00h1.2v1.2h-1.2zM396.55 138.76h1.2v1.2h-1.2zM400.35 138.76h1.2v1.2h-1.2zM404.15 138.76h1.2v1.2h-1.2zM398.45 142.52h1.2v1.2h-1.2zM402.25 142.52h1.2v1.2h-1.2zM406.05 142.52h1.2v1.2h-1.2zM396.55 146.28h1.2v1.2h-1.2zM400.35 146.28h1.2v1.2h-1.2zM404.15 146.28h1.2v1.2h-1.2zM398.45 150.04h1.2v1.2h-1.2zM402.25 150.04h1.2v1.2h-1.2zM406.05 150.04h1.2v1.2h-1.2zM396.55 153.80h1.2v1.2h-1.2zM400.35 153.80h1.2v1.2h-1.2zM404.15 153.80h1.2v1.2h-1.2zM398.45 157.56h1.2v1.2h-1.2zM402.25 157.56h1.2v1.2h-1.2zM406.05 157.56h1.2v1.2h-1.2zM396.55 161.32h1.2v1.2h-1.2zM400.35 161.32h1.2v1.2h-1.2zM404.15 161.32h1.2v1.2h-1.2zM398.45 165.08h1.2v1.2h-1.2zM402.25 165.08h1.2v1.2h-1.2zM406.05 165.08h1.2v1.2h-1.2zM396.55 168.84h1.2v1.2h-1.2zM400.35 168.84h1.2v1.2h-1.2zM404.15 168.84h1.2v1.2h-1.2zM398.45 172.60h1.2v1.2h-1.2zM402.25 172.60h1.2v1.2h-1.2zM406.05 172.60h1.2v1.2h-1.2zM396.55 176.36h1.2v1.2h-1.2zM400.35 176.36h1.2v1.2h-1.2zM404.15 176.36h1.2v1.2h-1.2zM398.45 180.12h1.2v1.2h-1.2zM402.25 180.12h1.2v1.2h-1.2zM406.05 180.12h1.2v1.2h-1.2zM396.55 183.88h1.2v1.2h-1.2zM400.35 183.88h1.2v1.2h-1.2zM404.15 183.88h1.2v1.2h-1.2zM398.45 187.64h1.2v1.2h-1.2zM402.25 187.64h1.2v1.2h-1.2zM406.05 187.64h1.2v1.2h-1.2zM396.55 191.40h1.2v1.2h-1.2zM400.35 191.40h1.2v1.2h-1.2zM404.15 191.40h1.2v1.2h-1.2zM398.45 195.16h1.2v1.2h-1.2zM402.25 195.16h1.2v1.2h-1.2zM406.05 195.16h1.2v1.2h-1.2zM396.55 198.92h1.2v1.2h-1.2zM400.35 198.92h1.2v1.2h-1.2zM404.15 198.92h1.2v1.2h-1.2zM398.45 202.68h1.2v1.2h-1.2zM402.25 202.68h1.2v1.2h-1.2zM406.05 202.68h1.2v1.2h-1.2zM396.55 206.44h1.2v1.2h-1.2zM400.35 206.44h1.2v1.2h-1.2zM404.15 206.44h1.2v1.2h-1.2zM398.45 210.20h1.2v1.2h-1.2zM402.25 210.20h1.2v1.2h-1.2zM406.05 210.20h1.2v1.2h-1.2zM396.55 213.96h1.2v1.2h-1.2zM400.35 213.96h1.2v1.2h-1.2zM404.15 213.96h1.2v1.2h-1.2zM398.45 217.72h1.2v1.2h-1.2zM402.25 217.72h1.2v1.2h-1.2zM406.05 217.72h1.2v1.2h-1.2zM396.55 221.48h1.2v1.2h-1.2zM400.35 221.48h1.2v1.2h-1.2zM404.15 221.48h1.2v1.2h-1.2zM398.45 225.24h1.2v1.2h-1.2zM402.25 225.24h1.2v1.2h-1.2zM406.05 225.24h1.2v1.2h-1.2zM396.55 229.00h1.2v1.2h-1.2zM400.35 229.00h1.2v1.2h-1.2zM404.15 229.00h1.2v1.2h-1.2zM398.45 232.76h1.2v1.2h-1.2zM402.25 232.76h1.2v1.2h-1.2zM406.05 232.76h1.2v1.2h-1.2zM396.55 236.52h1.2v1.2h-1.2zM400.35 236.52h1.2v1.2h-1.2zM404.15 236.52h1.2v1.2h-1.2zM398.45 240.28h1.2v1.2h-1.2zM402.25 240.28h1.2v1.2h-1.2zM406.05 240.28h1.2v1.2h-1.2zM396.55 244.04h1.2v1.2h-1.2zM400.35 244.04h1.2v1.2h-1.2zM404.15 244.04h1.2v1.2h-1.2zM398.45 247.80h1.2v1.2h-1.2zM402.25 247.80h1.2v1.2h-1.2zM406.05 247.80h1.2v1.2h-1.2z" fill="#4a1c60"/>
<path d="M396.50 249.10V100.45H406.25V249.10" fill="none" stroke="#080808" stroke-width="1.0"/>
<path d="M398.88 100.15H403.88" stroke="#0a0a0a" stroke-width="1.8" fill="none"/>
<g opacity="0.999">
<path d="M38.25 53.70V249.7" stroke="#0c0c0c" stroke-width="1.4" fill="none"/>
<path d="M32.0 249.2H419.8" stroke="#1a1a1a" stroke-width="1.1" fill="none"/>
<path d="M32.0 210.00H38" stroke="#1a1a1a" stroke-width="1.2" fill="none"/>
<path d="M32.0 171.10H38" stroke="#1a1a1a" stroke-width="1.2" fill="none"/>
<path d="M32.0 132.20H38" stroke="#1a1a1a" stroke-width="1.2" fill="none"/>
<path d="M32.0 93.30H38" stroke="#1a1a1a" stroke-width="1.2" fill="none"/>
<path d="M32.0 54.40H38" stroke="#1a1a1a" stroke-width="1.2" fill="none"/>
<text x="31.0" y="251.30" text-anchor="end" class="tk">0</text>
<text x="31.0" y="212.40" text-anchor="end" class="tk">5</text>
<text x="31.0" y="173.50" text-anchor="end" class="tk">10</text>
<text x="31.0" y="134.60" text-anchor="end" class="tk">15</text>
<text x="31.0" y="95.70" text-anchor="end" class="tk">20</text>
<text x="31.0" y="56.80" text-anchor="end" class="tk">25</text>
<text x="94.9" y="276.5" class="xl">be<tspan dx="1.9">rgapte</tspan><tspan dx="0.8">n</tspan></text>
<text x="295.6" y="276.5" class="xl">impe<tspan dx="1.6" style="letter-spacing:0.26px">ratorin</tspan></text>
<text transform="translate(11.0 191.1) rotate(-90)" class="yl">c [mg / 100g]</text>
<rect x="453.70" y="2.40" width="15.60" height="13.30" fill="#F9FCC2"/>
<rect x="453.70" y="2.40" width="15.60" height="13.30" fill="none" stroke="#080808" stroke-width="1.0"/>
<text x="484.3" y="13.00" class="lg">MeOH 80</text>
<rect x="453.70" y="22.50" width="15.60" height="13.30" fill="#FFFF00"/>
<rect x="453.70" y="22.50" width="15.60" height="13.30" fill="none" stroke="#080808" stroke-width="1.0"/>
<text x="484.3" y="34.40" class="lg">MeOH 90</text>
<rect x="453.70" y="42.40" width="15.60" height="12.90" fill="#FFFFAC"/><path clip-path="url(#c13)" d="M452.70 42.20L470.30 24.60M452.70 46.00L470.30 28.40M452.70 49.80L470.30 32.20M452.70 53.60L470.30 36.00M452.70 57.40L470.30 39.80M452.70 61.20L470.30 43.60M452.70 65.00L470.30 47.40M452.70 68.80L470.30 51.20M452.70 72.60L470.30 55.00M452.70 76.40L470.30 58.80" stroke="#0a0a0a" stroke-width="1.22" fill="none"/>
<rect x="453.70" y="42.40" width="15.60" height="12.90" fill="none" stroke="#080808" stroke-width="1.0"/>
<text x="484.3" y="54.90" class="lg">MeOH 100</text>
<rect x="453.70" y="63.80" width="15.60" height="13.30" fill="#FFFF00"/><path clip-path="url(#c14)" d="M455.40 64.33h1.2v1.2h-1.2zM459.20 64.33h1.2v1.2h-1.2zM463.00 64.33h1.2v1.2h-1.2zM466.80 64.33h1.2v1.2h-1.2zM453.50 68.17h1.2v1.2h-1.2zM457.30 68.17h1.2v1.2h-1.2zM461.10 68.17h1.2v1.2h-1.2zM464.90 68.17h1.2v1.2h-1.2zM468.70 68.17h1.2v1.2h-1.2zM455.40 72.00h1.2v1.2h-1.2zM459.20 72.00h1.2v1.2h-1.2zM463.00 72.00h1.2v1.2h-1.2zM466.80 72.00h1.2v1.2h-1.2zM453.50 75.83h1.2v1.2h-1.2zM457.30 75.83h1.2v1.2h-1.2zM461.10 75.83h1.2v1.2h-1.2zM464.90 75.83h1.2v1.2h-1.2zM468.70 75.83h1.2v1.2h-1.2z" fill="#454100"/>
<rect x="453.70" y="63.80" width="15.60" height="13.30" fill="none" stroke="#080808" stroke-width="1.0"/>
<text x="484.3" y="75.90" class="lg">MeOH 110</text>
<rect x="453.70" y="88.10" width="15.60" height="13.40" fill="#C8DEFA"/>
<rect x="453.70" y="88.10" width="15.60" height="13.40" fill="none" stroke="#080808" stroke-width="1.0"/>
<text x="484.3" y="99.70" class="lg">Ether 80</text>
<rect x="453.70" y="107.80" width="15.60" height="13.30" fill="#5098FA"/>
<rect x="453.70" y="107.80" width="15.60" height="13.30" fill="none" stroke="#080808" stroke-width="1.0"/>
<text x="484.3" y="120.50" class="lg">Ether 90</text>
<rect x="453.70" y="127.60" width="15.60" height="13.30" fill="#E4F0FF"/><path clip-path="url(#c15)" d="M452.70 125.80L470.30 108.20M452.70 129.60L470.30 112.00M452.70 133.40L470.30 115.80M452.70 137.20L470.30 119.60M452.70 141.00L470.30 123.40M452.70 144.80L470.30 127.20M452.70 148.60L470.30 131.00M452.70 152.40L470.30 134.80M452.70 156.20L470.30 138.60M452.70 160.00L470.30 142.40" stroke="#0a0a0a" stroke-width="1.22" fill="none"/>
<rect x="453.70" y="127.60" width="15.60" height="13.30" fill="none" stroke="#080808" stroke-width="1.0"/>
<text x="484.3" y="139.70" class="lg">Ether 100</text>
<rect x="453.70" y="149.50" width="15.60" height="13.50" fill="#5098FA"/><path clip-path="url(#c16)" d="M455.40 148.66h1.2v1.2h-1.2zM459.20 148.66h1.2v1.2h-1.2zM463.00 148.66h1.2v1.2h-1.2zM466.80 148.66h1.2v1.2h-1.2zM453.50 152.49h1.2v1.2h-1.2zM457.30 152.49h1.2v1.2h-1.2zM461.10 152.49h1.2v1.2h-1.2zM464.90 152.49h1.2v1.2h-1.2zM468.70 152.49h1.2v1.2h-1.2zM455.40 156.33h1.2v1.2h-1.2zM459.20 156.33h1.2v1.2h-1.2zM463.00 156.33h1.2v1.2h-1.2zM466.80 156.33h1.2v1.2h-1.2zM453.50 160.16h1.2v1.2h-1.2zM457.30 160.16h1.2v1.2h-1.2zM461.10 160.16h1.2v1.2h-1.2zM464.90 160.16h1.2v1.2h-1.2zM468.70 160.16h1.2v1.2h-1.2z" fill="#15306a"/>
<rect x="453.70" y="149.50" width="15.60" height="13.50" fill="none" stroke="#080808" stroke-width="1.0"/>
<text x="484.3" y="160.10" class="lg">Ether 110</text>
<rect x="453.70" y="172.90" width="15.60" height="12.90" fill="#F0C8FA"/>
<rect x="453.70" y="172.90" width="15.60" height="12.90" fill="none" stroke="#080808" stroke-width="1.0"/>
<text x="484.3" y="185.80" class="lg">CH2Cl2 80</text>
<rect x="453.70" y="192.60" width="15.60" height="13.30" fill="#DE84FA"/>
<rect x="453.70" y="192.60" width="15.60" height="13.30" fill="none" stroke="#080808" stroke-width="1.0"/>
<text x="484.3" y="206.80" class="lg">CH2Cl2 90</text>
<rect x="453.70" y="212.30" width="15.60" height="13.40" fill="#F8DCFF"/><path clip-path="url(#c17)" d="M452.70 213.20L470.30 195.60M452.70 217.00L470.30 199.40M452.70 220.80L470.30 203.20M452.70 224.60L470.30 207.00M452.70 228.40L470.30 210.80M452.70 232.20L470.30 214.60M452.70 236.00L470.30 218.40M452.70 239.80L470.30 222.20M452.70 243.60L470.30 226.00" stroke="#0a0a0a" stroke-width="1.22" fill="none"/>
<rect x="453.70" y="212.30" width="15.60" height="13.40" fill="none" stroke="#080808" stroke-width="1.0"/>
<text x="484.3" y="225.20" class="lg">CH2Cl2 100</text>
<rect x="453.70" y="233.90" width="15.60" height="13.30" fill="#DE84FA"/><path clip-path="url(#c18)" d="M455.40 232.99h1.2v1.2h-1.2zM459.20 232.99h1.2v1.2h-1.2zM463.00 232.99h1.2v1.2h-1.2zM466.80 232.99h1.2v1.2h-1.2zM453.50 236.82h1.2v1.2h-1.2zM457.30 236.82h1.2v1.2h-1.2zM461.10 236.82h1.2v1.2h-1.2zM464.90 236.82h1.2v1.2h-1.2zM468.70 236.82h1.2v1.2h-1.2zM455.40 240.65h1.2v1.2h-1.2zM459.20 240.65h1.2v1.2h-1.2zM463.00 240.65h1.2v1.2h-1.2zM466.80 240.65h1.2v1.2h-1.2zM453.50 244.49h1.2v1.2h-1.2zM457.30 244.49h1.2v1.2h-1.2zM461.10 244.49h1.2v1.2h-1.2zM464.90 244.49h1.2v1.2h-1.2zM468.70 244.49h1.2v1.2h-1.2z" fill="#4a1c60"/>
<rect x="453.70" y="233.90" width="15.60" height="13.30" fill="none" stroke="#080808" stroke-width="1.0"/>
<text x="484.3" y="245.80" class="lg">CH2Cl2 110</text>
</g>
</svg>
</body></html>
